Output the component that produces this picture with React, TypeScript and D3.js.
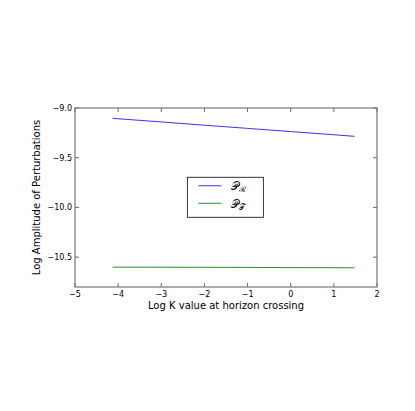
import * as d3 from 'd3';

const kValues = [-4.13, -3, -2, -1, 0, 1, 1.48];
const curvatureAmp = [-9.104, -9.140, -9.173, -9.205, -9.237, -9.269, -9.285];
const tensorAmp = [-10.600, -10.601, -10.602, -10.603, -10.605, -10.606, -10.607];
const xTicks = [-5, -4, -3, -2, -1, 0, 1, 2];
const yTicks = [-10.5, -10.0, -9.5, -9.0];

const fmtX = (v: number) => String(v).replace('-', '\u2212');
const fmtY = (v: number) => v.toFixed(1).replace('-', '\u2212');

export default function App() {
  const width = 415;
  const height = 411;
  const margin = { top: 108, right: 38, bottom: 124, left: 75 };
  const innerWidth = width - margin.left - margin.right;
  const innerHeight = height - margin.top - margin.bottom;

  const x = d3.scaleLinear().domain([-5, 2]).range([0, innerWidth]);
  const y = d3.scaleLinear().domain([-10.8, -9.0]).range([innerHeight, 0]);

  const line = d3
    .line<number>()
    .x((_, i) => x(kValues[i]))
    .y((d) => y(d));

  const font = 'DejaVu Sans, sans-serif';
  // legend anchored in axes fraction, like matplotlib
  const legX = innerWidth * 0.372;
  const legY = innerHeight * 0.387;

  return (
    <svg
      width={width}
      height={height}
      style={{ position: 'absolute', left: 0, top: 0, background: '#fff' }}
    >
      <g transform={`translate(${margin.left},${margin.top})`}>
        <path d={line(curvatureAmp) ?? ''} fill="none" stroke="#3333ff" strokeWidth={1} />
        <path d={line(tensorAmp) ?? ''} fill="none" stroke="#2a8a2a" strokeWidth={1} />

        {xTicks.map((t) => (
          <g key={`x${t}`}>
            <line x1={x(t)} x2={x(t)} y1={innerHeight} y2={innerHeight - 4} stroke="#000" strokeWidth={0.6} />
            <line x1={x(t)} x2={x(t)} y1={0} y2={4} stroke="#000" strokeWidth={0.6} />
            <text x={x(t)} y={innerHeight + 10} textAnchor="middle" fontSize="8" fontFamily={font}>
              {fmtX(t)}
            </text>
          </g>
        ))}
        {yTicks.map((t) => (
          <g key={`y${t}`}>
            <line x1={0} x2={4} y1={y(t)} y2={y(t)} stroke="#000" strokeWidth={0.6} />
            <line x1={innerWidth} x2={innerWidth - 4} y1={y(t)} y2={y(t)} stroke="#000" strokeWidth={0.6} />
            <text x={-3} y={y(t) + 3} textAnchor="end" fontSize="8" fontFamily={font}>
              {fmtY(t)}
            </text>
          </g>
        ))}

        <rect x={0} y={0} width={innerWidth} height={innerHeight} fill="none" stroke="#777" strokeWidth={1.2} />

        <text x={innerWidth / 2} y={innerHeight + 22} textAnchor="middle" fontSize="10" fontFamily={font}>
          Log K value at horizon crossing
        </text>
        <text
          transform={`translate(${-35},${innerHeight / 2}) rotate(-90)`}
          textAnchor="middle"
          fontSize="10"
          fontFamily={font}
        >
          Log Amplitude of Perturbations
        </text>

        <g transform={`translate(${legX},${legY})`}>
          <rect x={0} y={0} width={76} height={40} fill="#fff" stroke="#000" strokeWidth={0.8} />
          <line x1={11} x2={34} y1={8.5} y2={8.5} stroke="#3333ff" strokeWidth={1} />
          <line x1={11} x2={34} y1={26} y2={26} stroke="#2a8a2a" strokeWidth={1} />
          <text x={44} y={13} fontSize="11" fontFamily="DejaVu Serif, serif">
            𝒫<tspan fontSize="8" dy="2">ℛ</tspan>
          </text>
          <text x={44} y={31} fontSize="11" fontFamily="DejaVu Serif, serif">
            𝒫<tspan fontSize="8" dy="2">𝒯</tspan>
          </text>
        </g>
      </g>
    </svg>
  );
}
